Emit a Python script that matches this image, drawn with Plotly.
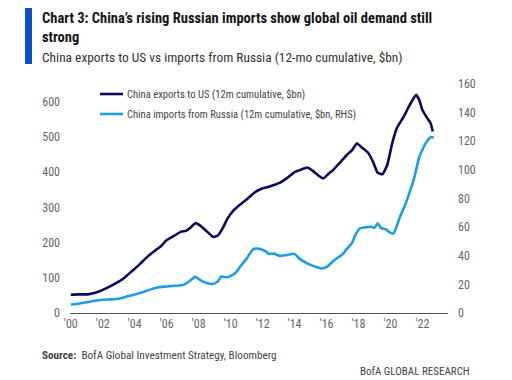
import plotly.graph_objects as go

# China exports to US (12m cumulative, $bn) - left axis
us_years = [2000.0, 2000.5, 2001.0, 2001.3, 2001.8, 2002.3, 2002.8, 2003.3, 2003.8, 2004.3,
            2004.8, 2005.3, 2005.6, 2006.0, 2006.5, 2006.9, 2007.2, 2007.5, 2007.8, 2008.1,
            2008.5, 2008.9, 2009.2, 2009.5, 2009.8, 2010.2, 2010.6, 2011.0, 2011.5, 2011.9,
            2012.2, 2012.5, 2012.8, 2013.1, 2013.5, 2014.0, 2014.4, 2014.8, 2015.1, 2015.5,
            2015.8, 2016.1, 2016.5, 2016.9, 2017.3, 2017.6, 2017.9, 2018.2, 2018.6, 2018.9,
            2019.2, 2019.5, 2019.8, 2020.1, 2020.4, 2020.8, 2021.2, 2021.6, 2021.8, 2022.0,
            2022.3, 2022.5, 2022.65]
us_values = [52, 53, 53, 55, 62, 72, 84, 98, 118, 138,
             160, 178, 188, 207, 220, 231, 233, 243, 255, 248,
             232, 216, 220, 240, 268, 292, 308, 322, 342, 352,
             356, 360, 365, 370, 382, 400, 407, 413, 405, 390,
             382, 394, 410, 430, 450, 462, 482, 470, 455, 430,
             398, 394, 420, 480, 525, 555, 590, 619, 605, 576,
             553, 540, 515]

# China imports from Russia (12m cumulative, $bn) - right axis
ru_years = [2000.0, 2000.5, 2001.0, 2001.5, 2002.0, 2002.5, 2003.0, 2003.5, 2004.0, 2004.5,
            2005.0, 2005.5, 2006.0, 2006.5, 2007.0, 2007.4, 2007.8, 2008.1, 2008.5, 2008.9,
            2009.2, 2009.4, 2009.8, 2010.0, 2010.3, 2010.6, 2011.0, 2011.4, 2011.7, 2011.9,
            2012.2, 2012.4, 2012.7, 2013.1, 2013.5, 2014.0, 2014.3, 2014.7, 2015.0, 2015.4,
            2015.7, 2016.0, 2016.5, 2017.0, 2017.3, 2017.6, 2017.8, 2018.1, 2018.5, 2018.8,
            2019.0, 2019.2, 2019.4, 2019.7, 2020.0, 2020.2, 2020.6, 2020.9, 2021.25, 2021.5,
            2021.8, 2022.0, 2022.2, 2022.5, 2022.7]
ru_values = [5.9, 6.5, 7.5, 8.5, 9.2, 9.5, 10, 11.5, 13, 14.5,
             16.5, 18, 18.5, 19, 19.5, 22, 25.4, 23, 21, 20.3,
             22, 25.4, 25, 25.9, 28, 32.4, 38, 44.5, 45, 44.5,
             43, 41.3, 41.5, 39.9, 40.5, 41.3, 38, 35.2, 33.6, 32,
             31.2, 32, 37, 41, 45.2, 49, 54.5, 59.2, 60, 60.3,
             59.5, 62.6, 59.5, 58.5, 56, 55.7, 67.3, 75, 86, 95,
             109, 114, 118.5, 122.7, 122.7]

x_tickvals = list(range(2000, 2023, 2))
x_ticktext = ["'00", "'02", "'04", "'06", "'08", "'10", "'12", "'14", "'16", "'18", "'20", "'22"]
left_ticks = [0, 100, 200, 300, 400, 500, 600]
right_ticks = [0, 20, 40, 60, 80, 100, 120, 140, 160]

us_name = "China exports to US (12m cumulative, $bn)"
ru_name = "China imports from Russia (12m cumulative, $bn, RHS)"

DARK = "#0b0c5e"
LIGHT = "#1c9ee0"
FONT = "Roboto Condensed, Lato, sans-serif"

OFF = 8  # page body margin
W, H = 512 - OFF, 380 - OFF
L, T = 70 - OFF, 84 - OFF
pw, ph = 378, 229
R, B = W - L - pw, H - T - ph


def px(xp):
    return (xp - OFF - L) / pw


def py(yp):
    return (T + ph - (yp - OFF)) / ph


fig = go.Figure()
fig.add_trace(go.Scatter(x=us_years, y=us_values, mode="lines", name=us_name,
                         line=dict(color=DARK, width=2.6, shape="spline", smoothing=0.4)))
fig.add_trace(go.Scatter(x=ru_years, y=ru_values, mode="lines", yaxis="y2", name=ru_name,
                         line=dict(color=LIGHT, width=2.6, shape="spline", smoothing=0.4)))

fig.update_layout(
    width=W, height=H,
    margin=dict(l=L, r=R, t=T, b=B),
    paper_bgcolor="white", plot_bgcolor="white",
    font=dict(family=FONT, color="#555555", size=12),
    showlegend=False,
    xaxis=dict(range=[2000 - 0.05, 2023.6], tickvals=x_tickvals, ticktext=x_ticktext,
               showgrid=False, zeroline=False, showline=True, linecolor="#555555",
               linewidth=1, ticks="", tickfont=dict(size=12, color="#666666")),
    yaxis=dict(range=[0, 650], tickvals=left_ticks, showgrid=False, zeroline=False,
               showline=False, ticks="", ticklabelstandoff=9,
               tickfont=dict(size=12, color="#666666")),
    yaxis2=dict(range=[0, 160], tickvals=right_ticks, overlaying="y", side="right",
                showgrid=False, zeroline=False, showline=False, ticks="",
                ticklabelstandoff=9, tickfont=dict(size=12, color="#666666")),
)

shapes = [
    dict(type="rect", xref="paper", yref="paper",
         x0=px(25), x1=px(32), y0=py(64), y1=py(7),
         fillcolor="#0a4fc4", line=dict(width=0)),
    dict(type="line", xref="paper", yref="paper", x0=px(100), x1=px(123), y0=py(94), y1=py(94),
         line=dict(color=DARK, width=2.6)),
    dict(type="line", xref="paper", yref="paper", x0=px(100), x1=px(123), y0=py(114), y1=py(114),
         line=dict(color=LIGHT, width=2.6)),
]
fig.update_layout(shapes=shapes)

ann = [
    dict(text="<b>Chart 3: China\u2019s rising Russian imports show global oil demand still</b>",
         x=px(40), y=py(19), font=dict(size=14.5, color="#151515")),
    dict(text="<b>strong</b>", x=px(40), y=py(38), font=dict(size=14.5, color="#151515")),
    dict(text="China exports to US vs imports from Russia (12-mo cumulative, $bn)",
         x=px(40), y=py(58), font=dict(size=13.4, color="#333333")),
    dict(text=us_name, x=px(125), y=py(94), font=dict(size=10.6, color="#444444")),
    dict(text=ru_name, x=px(125), y=py(114), font=dict(size=10.6, color="#444444")),
    dict(text="<b>Source:</b>  BofA Global Investment Strategy, Bloomberg",
         x=px(40), y=py(355), font=dict(size=11.2, color="#444444")),
    dict(text="BofA GLOBAL RESEARCH", x=px(472), y=py(371), xanchor="right",
         font=dict(size=11, color="#444444")),
]
for a in ann:
    a.setdefault("xanchor", "left")
    a.update(xref="paper", yref="paper", yanchor="middle", showarrow=False)
fig.update_layout(annotations=ann)

fig.write_html("out.html")
